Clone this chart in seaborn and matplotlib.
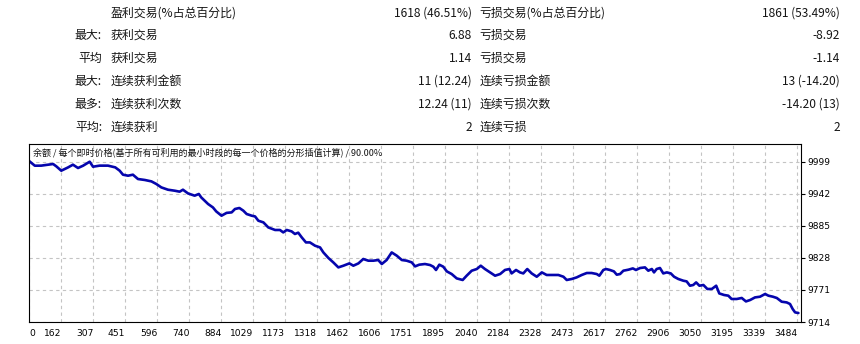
import numpy as np
import pandas as pd
import matplotlib
matplotlib.use("Agg")
import matplotlib.pyplot as plt
import seaborn as sns

# ---- summary table ----
row_prefix = ["", "最大:", "平均", "最大:", "最多:", "平均:"]
win_labels = ["盈利交易(%占总百分比)", "获利交易", "获利交易", "连续获利金额", "连续获利次数", "连续获利"]
win_values = ["1618 (46.51%)", "6.88", "1.14", "11 (12.24)", "12.24 (11)", "2"]
loss_labels = ["亏损交易(%占总百分比)", "亏损交易", "亏损交易", "连续亏损金额", "连续亏损次数", "连续亏损"]
loss_values = ["1861 (53.49%)", "-8.92", "-1.14", "13 (-14.20)", "-14.20 (13)", "2"]

# ---- balance curve ----
trade_no = [0, 25, 54, 85, 108, 123, 145, 176, 198, 221, 244, 274, 289, 319, 357, 390,
            410, 425, 448, 470, 493, 524, 554, 576, 599, 629, 660, 682, 697, 720, 750,
            769, 780, 811, 833, 848, 872, 895, 918, 933, 953, 971, 986, 1009, 1024, 1039,
            1062, 1084, 1115, 1137, 1152, 1168, 1190, 1205, 1220, 1236, 1255, 1273, 1296,
            1319, 1334, 1357, 1379, 1402, 1425, 1452, 1470, 1493, 1515, 1538, 1561, 1583,
            1599, 1621, 1644, 1667, 1690, 1712, 1735, 1750, 1769, 1795, 1818, 1833, 1845,
            1860, 1878, 1894, 1916, 1939, 1966, 1984, 2007, 2030, 2048, 2067, 2090, 2113,
            2136, 2158, 2178, 2188, 2208, 2226, 2241, 2259, 2279, 2302, 2325, 2347, 2370,
            2400, 2423, 2438, 2461, 2483, 2506, 2529, 2551, 2574, 2586, 2604, 2616, 2634,
            2652, 2665, 2680, 2695, 2718, 2738, 2752, 2771, 2793, 2808, 2824, 2834, 2846,
            2861, 2876, 2892, 2910, 2925, 2944, 2967, 2982, 2997, 3012, 3025, 3040, 3058,
            3076, 3096, 3116, 3130, 3152, 3171, 3186, 3209, 3232, 3251, 3270, 3292, 3315,
            3338, 3353, 3373, 3391, 3413, 3436, 3451, 3463, 3474, 3489]
balance = [10000.0, 9991.9, 9992.0, 9993.7, 9994.9, 9990.6, 9983.0, 9988.9, 9993.7, 9987.8,
           9991.9, 9999.0, 9990.1, 9992.0, 9992.0, 9988.9, 9983.0, 9975.9, 9974.1, 9975.9,
           9968.2, 9966.5, 9964.0, 9959.4, 9953.3, 9949.2, 9947.4, 9945.7, 9949.2, 9942.6,
           9938.6, 9941.6, 9935.5, 9923.8, 9917.7, 9910.6, 9903.0, 9908.0, 9908.9, 9914.9,
           9916.7, 9911.9, 9906.0, 9903.0, 9901.7, 9894.1, 9891.1, 9882.2, 9877.6, 9877.6,
           9873.3, 9877.6, 9875.1, 9870.5, 9872.8, 9864.4, 9855.5, 9855.5, 9849.7, 9846.6,
           9837.7, 9827.8, 9820.0, 9811.1, 9814.1, 9818.2, 9814.1, 9818.2, 9826.0, 9823.0,
           9823.0, 9824.2, 9817.1, 9824.2, 9837.7, 9831.9, 9824.2, 9823.0, 9820.0, 9812.9,
           9815.9, 9817.1, 9815.3, 9812.3, 9806.5, 9815.9, 9812.3, 9804.0, 9799.3, 9791.5,
           9788.7, 9796.3, 9805.2, 9808.2, 9814.1, 9808.2, 9802.2, 9796.3, 9799.3, 9806.5,
           9808.2, 9800.4, 9806.5, 9802.2, 9800.4, 9808.2, 9800.4, 9794.5, 9802.2, 9797.6,
           9797.6, 9797.6, 9794.5, 9788.7, 9790.5, 9793.3, 9797.6, 9801.1, 9801.1, 9799.3,
           9796.3, 9806.5, 9808.2, 9806.5, 9804.0, 9798.1, 9799.3, 9805.2, 9807.0, 9809.3,
           9806.5, 9810.0, 9811.1, 9805.2, 9808.2, 9802.2, 9808.2, 9810.0, 9800.4, 9802.2,
           9800.4, 9794.5, 9790.5, 9787.4, 9786.2, 9778.5, 9779.8, 9784.4, 9778.5, 9779.8,
           9772.7, 9772.7, 9778.5, 9764.8, 9762.0, 9760.8, 9754.9, 9754.9, 9756.7, 9750.6,
           9753.1, 9757.7, 9759.0, 9763.8, 9760.8, 9759.0, 9756.7, 9750.1, 9748.8, 9746.0,
           9737.1, 9731.1, 9730.0]

x_tick_labels = ["0", "162", "307", "451", "596", "740", "884", "1029", "1173", "1318",
                 "1462", "1606", "1751", "1895", "2040", "2184", "2328", "2473", "2617",
                 "2762", "2906", "3050", "3195", "3339", "3484"]
y_ticks = [9714, 9771, 9828, 9885, 9942, 9999]
chart_title = "余额 / 每个即时价格(基于所有可利用的最小时段的每一个价格的分形插值计算) / 90.00%"

sns.set_style("white")
plt.rcParams["font.family"] = ["Noto Sans CJK SC", "DejaVu Sans"]

W, H = 860, 344
fig = plt.figure(figsize=(W / 100, H / 100), dpi=100)
fig.patch.set_facecolor("white")


def px(x, y):
    return x / W, 1 - y / H


# summary rows
text_color = "#151515"
row_y = [13, 35.5, 58.5, 81.5, 104.5, 127.5]
for i, y in enumerate(row_y):
    fs = 8.6
    if row_prefix[i]:
        fig.text(*px(102, y), row_prefix[i], ha="right", va="center", fontsize=fs, color=text_color)
    fig.text(*px(111, y), win_labels[i], ha="left", va="center", fontsize=fs, color=text_color)
    fig.text(*px(472, y), win_values[i], ha="right", va="center", fontsize=fs, color=text_color)
    fig.text(*px(479.5, y), loss_labels[i], ha="left", va="center", fontsize=fs, color=text_color)
    fig.text(*px(840, y), loss_values[i], ha="right", va="center", fontsize=fs, color=text_color)

# balance chart
left, right, top, bottom = 29.3, 800.7, 144, 322
ax = fig.add_axes([left / W, (H - bottom) / H, (right - left) / W, (bottom - top) / H])

df = pd.DataFrame({"trade": trade_no, "balance": balance})
sns.lineplot(data=df, x="trade", y="balance", ax=ax, color="#0505ad", linewidth=1.9)

step = 3484 / 24
x_ticks = np.arange(len(x_tick_labels)) * step
ax.set_xlim(0, (right - left) / 32 * step)
units_per_px = 57 / 32.06
ax.set_ylim(9714, 9714 + (bottom - top) * units_per_px)

ax.set_xticks(x_ticks)
ax.set_xticklabels(x_tick_labels)
for i, lab in enumerate(ax.get_xticklabels()):
    lab.set_ha("left" if i == 0 else "right")
ax.set_yticks(y_ticks)
ax.set_yticklabels([str(v) for v in y_ticks])
ax.yaxis.tick_right()
ax.tick_params(axis="both", direction="out", length=3, width=0.8, colors="black",
               labelsize=6.6, pad=2)
for lab in ax.get_xticklabels() + ax.get_yticklabels():
    lab.set_fontfamily(["DejaVu Sans"])

ax.grid(True, color="#c4c4c4", linestyle=(0, (3, 3)), linewidth=0.8)
ax.set_axisbelow(True)
for s in ax.spines.values():
    s.set_visible(True)
    s.set_color("black")
    s.set_linewidth(0.8)
ax.set_xlabel("")
ax.set_ylabel("")

ax.text(4 / (right - left), 1 - 8 / (bottom - top), chart_title, transform=ax.transAxes,
        ha="left", va="center", fontsize=6.5, color=text_color)

fig.savefig("out.png", dpi=100, facecolor="white")
